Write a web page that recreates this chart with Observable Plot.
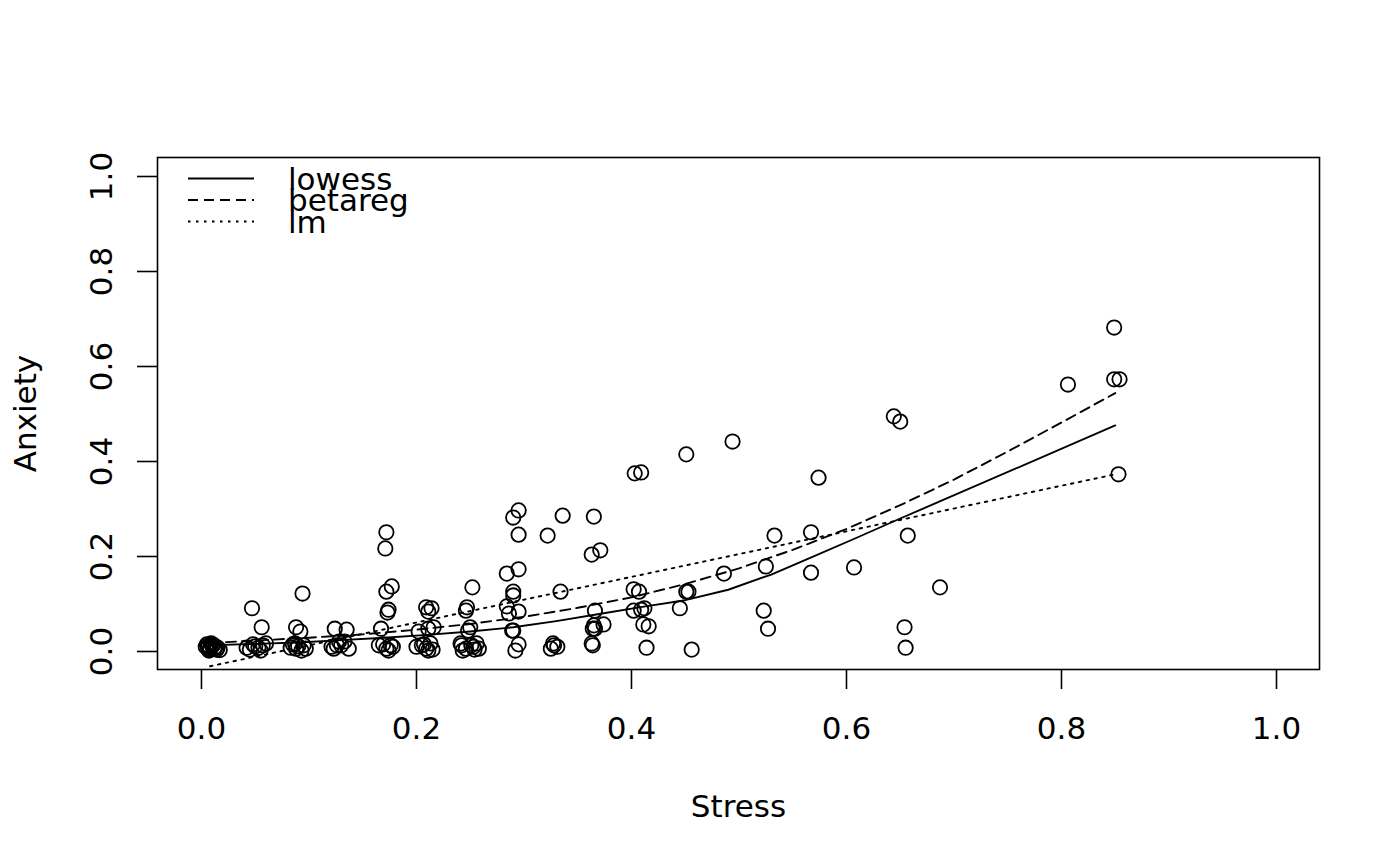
<!DOCTYPE html>
<html>
<head>
<meta charset="utf-8">
<script src="https://cdn.jsdelivr.net/npm/d3@7"></script>
<script src="https://cdn.jsdelivr.net/npm/@observablehq/plot@0.6"></script>
<style>
  html, body { margin: 0; padding: 0; background: #fff; }
  svg { display: block; }
</style>
</head>
<body>
<div id="chart"></div>
<script>
// ---- data ----
const stress = [
  0.006,0.008,0.010,0.005,0.012,0.013,0.007,0.009,0.014,0.004,0.008,0.011,0.015,0.017,0.006,
  0.047,0.056,0.050,0.053,0.057,0.060,0.042,0.045,0.055,0.048,
  0.094,0.088,0.092,0.085,0.088,0.093,0.095,0.083,0.097,0.090,0.087,
  0.124,0.135,0.128,0.130,0.133,0.123,0.126,0.137,0.121,
  0.172,0.171,0.177,0.172,0.174,0.173,0.167,0.165,0.172,0.176,0.174,0.169,0.178,
  0.209,0.214,0.211,0.216,0.211,0.202,0.205,0.209,0.213,0.200,0.215,0.207,0.211,
  0.252,0.247,0.246,0.250,0.248,0.242,0.246,0.251,0.256,0.258,0.243,0.253,0.241,0.254,
  0.295,0.290,0.295,0.295,0.284,0.290,0.290,0.284,0.286,0.295,0.289,0.290,0.295,0.292,
  0.336,0.322,0.334,0.327,0.325,0.331,0.328,
  0.365,0.363,0.371,0.366,0.374,0.365,0.364,0.363,0.364,0.366,
  0.403,0.409,0.402,0.407,0.402,0.409,0.412,0.411,0.416,0.414,
  0.451,0.451,0.453,0.445,0.456,
  0.494,0.486,0.533,0.525,0.523,0.527,0.574,0.567,0.567,0.607,0.644,0.650,0.657,0.654,0.655,0.687,0.806,0.849,0.849,0.854,0.853
];
const anxiety = [
  0.008,0.004,0.012,0.015,0.006,0.010,0.002,0.017,0.004,0.010,0.007,0.014,0.008,0.003,0.012,
  0.091,0.051,0.011,0.008,0.013,0.017,0.008,0.004,0.002,0.015,
  0.122,0.051,0.042,0.015,0.006,0.002,0.013,0.008,0.006,0.011,0.017,
  0.048,0.046,0.021,0.013,0.021,0.006,0.013,0.006,0.010,
  0.251,0.217,0.137,0.126,0.088,0.082,0.048,0.013,0.006,0.013,0.002,0.015,0.010,
  0.093,0.091,0.084,0.051,0.048,0.042,0.013,0.006,0.017,0.010,0.004,0.015,0.002,
  0.135,0.093,0.086,0.051,0.044,0.013,0.006,0.013,0.017,0.006,0.002,0.010,0.017,0.004,
  0.297,0.282,0.246,0.173,0.164,0.126,0.118,0.095,0.080,0.084,0.044,0.044,0.015,0.002,
  0.286,0.244,0.126,0.017,0.006,0.010,0.013,
  0.284,0.204,0.213,0.086,0.057,0.055,0.048,0.017,0.013,0.048,
  0.375,0.377,0.131,0.126,0.086,0.088,0.091,0.057,0.053,0.008,
  0.415,0.126,0.126,0.091,0.004,
  0.442,0.164,0.244,0.179,0.086,0.048,0.366,0.251,0.166,0.177,0.495,0.484,0.244,0.051,0.008,0.135,0.562,0.682,0.573,0.573,0.373
];

const lowessX = [0.008,0.05,0.09,0.13,0.17,0.21,0.25,0.29,0.33,0.37,0.41,0.45,0.49,0.53,0.57,0.61,0.65,0.69,0.85];
const lowessY = [0.013,0.016,0.019,0.024,0.029,0.035,0.042,0.051,0.064,0.079,0.094,0.108,0.130,0.162,0.201,0.240,0.280,0.319,0.476];

const betaregX = [0.008,0.05,0.10,0.15,0.20,0.25,0.30,0.35,0.40,0.45,0.50,0.55,0.60,0.65,0.70,0.75,0.80,0.85];
const betaregY = [0.018,0.023,0.029,0.036,0.046,0.058,0.073,0.092,0.114,0.142,0.175,0.214,0.258,0.308,0.362,0.421,0.482,0.544];

const lmX = [0.008, 0.85];
const lmY = [-0.031, 0.373];

const xTicks = [0, 0.2, 0.4, 0.6, 0.8, 1.0];
const yTicks = [0, 0.2, 0.4, 0.6, 0.8, 1.0];

const legendLabels = ["lowess", "betareg", "lm"];

// ---- build tables ----
const points = stress.map((s, i) => ({stress: s, anxiety: anxiety[i]}));
const lowess = lowessX.map((x, i) => ({x, y: lowessY[i]}));
const betareg = betaregX.map((x, i) => ({x, y: betaregY[i]}));
const lmFit = lmX.map((x, i) => ({x, y: lmY[i]}));

const FONT = "DejaVu Sans";
const FS = 31;
const dashes = [null, "10,6", "2.5,5.5"];
const LW = 1.9;

const legendMark = (index, scales, values, dimensions) => {
  const ml = dimensions.marginLeft, mt = dimensions.marginTop;
  const g = d3.create("svg:g");
  legendLabels.forEach((lab, i) => {
    const yy = mt + 21.5 + i * 21.5;
    const ln = g.append("line")
      .attr("x1", ml + 31).attr("x2", ml + 97)
      .attr("y1", yy).attr("y2", yy)
      .attr("stroke", "black").attr("stroke-width", LW);
    if (dashes[i]) ln.attr("stroke-dasharray", dashes[i]);
    g.append("text")
      .attr("x", ml + 131).attr("y", yy + 11)
      .attr("text-anchor", "start")
      .attr("font-family", FONT).attr("font-size", FS)
      .attr("fill", "black")
      .text(lab);
  });
  return g.node();
};

const fmt = d3.format(".1f");

const chart = Plot.plot({
  width: 1400,
  height: 866,
  marginLeft: 157,
  marginRight: 81,
  marginTop: 157,
  marginBottom: 197,
  style: {fontFamily: FONT, fontSize: FS + "px", background: "white", color: "black", overflow: "visible"},
  x: {domain: [-0.0409, 1.04], axis: null, label: null},
  y: {domain: [-0.0379, 1.04], axis: null, label: null},
  marks: [
    Plot.axisX(xTicks, {tickSize: 20, tickPadding: 27, tickFormat: fmt, strokeWidth: 1.6, fontSize: FS, label: null}),
    Plot.axisY(yTicks, {tickSize: 20, tickPadding: 26, tickRotate: -90, tickFormat: fmt, strokeWidth: 1.6, fontSize: FS, label: null}),
    Plot.text(["Stress"], {text: d => d, frameAnchor: "bottom", dy: 147, fontSize: FS, textAnchor: "middle"}),
    Plot.text(["Anxiety"], {text: d => d, frameAnchor: "left", dx: -131, rotate: -90, fontSize: FS, textAnchor: "middle"}),
    Plot.line(lmFit, {x: "x", y: "y", stroke: "black", strokeWidth: LW, strokeDasharray: dashes[2]}),
    Plot.line(betareg, {x: "x", y: "y", stroke: "black", strokeWidth: LW, strokeDasharray: dashes[1]}),
    Plot.line(lowess, {x: "x", y: "y", stroke: "black", strokeWidth: LW}),
    Plot.dot(points, {x: "stress", y: "anxiety", r: 7.2, stroke: "black", strokeWidth: 1.8, fill: "none"}),
    Plot.frame({stroke: "black", strokeWidth: 1.6}),
    legendMark
  ]
});

document.getElementById("chart").appendChild(chart);
</script>
</body>
</html>
